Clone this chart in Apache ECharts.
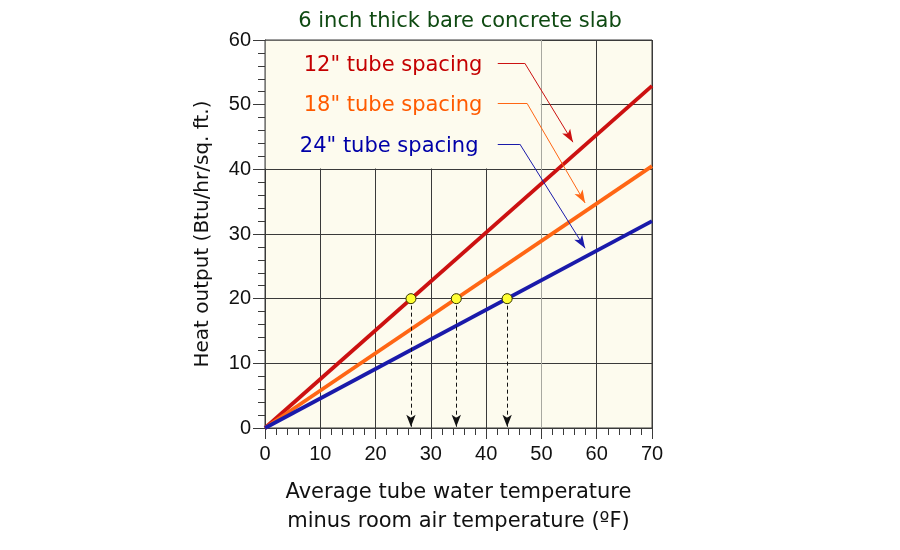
<!DOCTYPE html>
<html><head><meta charset="utf-8">
<script src="https://cdn.jsdelivr.net/npm/echarts@6/dist/echarts.min.js"></script>
<style>html,body{margin:0;padding:0;background:#fff}#c{width:900px;height:550px}</style>
</head><body><div id="c"></div>
<script>
// ---- data ----
const seriesNames = ['12" tube spacing', '18" tube spacing', '24" tube spacing'];
const xEnds = [0, 70];
const line12 = [0, 52.9];
const line18 = [0, 40.5];
const line24 = [0, 32.0];
const designOutput = 20;
const dotX = [26.4, 34.6, 43.8];
const xTicks = [0, 10, 20, 30, 40, 50, 60, 70];
const yTicks = [0, 10, 20, 30, 40, 50, 60];
// label anchors and arrow paths (data coords)
const labelPos = [[7.0, 56.0], [7.0, 49.8], [6.3, 43.6]];
const arrowStart = [[42.1, 56.4], [42.1, 50.2], [42.1, 43.9]];
const arrowCorner = [[47.0, 56.4], [47.4, 50.2], [46.1, 43.9]];
const arrowTip = [[55.7, 44.2], [57.9, 34.8], [57.9, 27.8]];

const colors = ['#cc1111', '#ff6614', '#1a1aaa'];
const textColors = ['#c40000', '#ff5a00', '#0000a8'];
const bg = '#fdfbee';
const FONT = 'DejaVu Sans';

const chart = echarts.init(document.getElementById('c'));
const lineData = [line12, line18, line24];

const series = [];
// mask over label area
series.push({
  type: 'line', data: [], z: 1, silent: true,
  markArea: { silent: true, itemStyle: { color: bg, opacity: 1 },
    data: [[{ coord: [0.12, 40.12] }, { coord: [49.88, 59.88] }]] }
});
lineData.forEach((d, i) => {
  series.push({
    type: 'line', name: seriesNames[i], z: 3,
    data: xEnds.map((x, k) => [x, d[k]]),
    showSymbol: false, symbol: 'none',
    lineStyle: { color: colors[i], width: 3.8 },
    markLine: {
      silent: true, animation: false,
      lineStyle: { color: colors[i], width: 1, type: 'solid' },
      label: { show: false },
      data: [
        [{ coord: arrowStart[i], symbol: 'none' }, { coord: arrowCorner[i], symbol: 'none' }],
        [{ coord: arrowCorner[i], symbol: 'none' }, { coord: arrowTip[i], symbol: 'arrow', symbolSize: [7, 13] }]
      ]
    },
    markPoint: {
      silent: true, animation: false,
      data: [{ coord: labelPos[i], symbol: 'circle', symbolSize: 0,
        label: { show: true, position: 'right', distance: 0, formatter: seriesNames[i],
          color: textColors[i], fontFamily: FONT, fontSize: 21 } }]
    }
  });
});
// dashed drop arrows
series.push({
  type: 'line', data: [], z: 4,
  markLine: {
    silent: true, animation: false,
    lineStyle: { color: '#111', width: 1, type: [4, 3] },
    label: { show: false },
    data: dotX.map(x => [{ coord: [x, designOutput], symbol: 'none' }, { coord: [x, 0.2], symbol: 'arrow', symbolSize: [7, 12] }])
  }
});
// dots
series.push({
  type: 'scatter', z: 5,
  data: dotX.map(x => [x, designOutput]),
  symbol: 'circle', symbolSize: 10,
  itemStyle: { color: '#ffff33', borderColor: '#333300', borderWidth: 1, opacity: 1 }
});

const splitColors = xTicks.map(v => v === 50 ? '#a8a8a0' : '#3a3a3a');

chart.setOption({
  animation: false,
  backgroundColor: '#fff',
  title: { text: '6 inch thick bare concrete slab', left: 455, top: 6, textAlign: 'center',
    textStyle: { color: '#0f4a12', fontFamily: FONT, fontSize: 21, fontWeight: 'normal' } },
  grid: { left: 265, right: 248, top: 40, bottom: 122, show: true, backgroundColor: bg,
    borderColor: '#3a3a3a', borderWidth: 1 },
  xAxis: {
    type: 'value', min: 0, max: 70, interval: 10,
    name: 'Average tube water temperature\nminus room air temperature (ºF)',
    nameLocation: 'middle', nameGap: 50,
    nameTextStyle: { color: '#111', fontFamily: FONT, fontSize: 21, lineHeight: 29 },
    axisLine: { lineStyle: { color: '#3a3a3a' } },
    axisTick: { show: true, length: 11, lineStyle: { color: '#3a3a3a' } },
    minorTick: { show: true, splitNumber: 5, length: 7, lineStyle: { color: '#3a3a3a' } },
    splitLine: { show: true, lineStyle: { color: splitColors, width: 1 } },
    axisLabel: { color: '#111', fontFamily: 'Liberation Sans', fontSize: 20, margin: 16,
      formatter: v => xTicks.includes(v) ? String(v) : '' }
  },
  yAxis: {
    type: 'value', min: 0, max: 60, interval: 10,
    name: 'Heat output (Btu/hr/sq. ft.)',
    nameLocation: 'middle', nameGap: 52, nameRotate: 90,
    nameTextStyle: { color: '#111', fontFamily: FONT, fontSize: 20 },
    axisLine: { show: true, lineStyle: { color: '#3a3a3a' } },
    axisTick: { show: true, length: 12, lineStyle: { color: '#3a3a3a' } },
    minorTick: { show: true, splitNumber: 5, length: 7, lineStyle: { color: '#3a3a3a' } },
    splitLine: { show: true, lineStyle: { color: '#3a3a3a', width: 1 } },
    axisLabel: { color: '#111', fontFamily: 'Liberation Sans', fontSize: 20, margin: 14,
      formatter: v => yTicks.includes(v) ? String(v) : '' }
  },
  series: series
});
</script></body></html>
